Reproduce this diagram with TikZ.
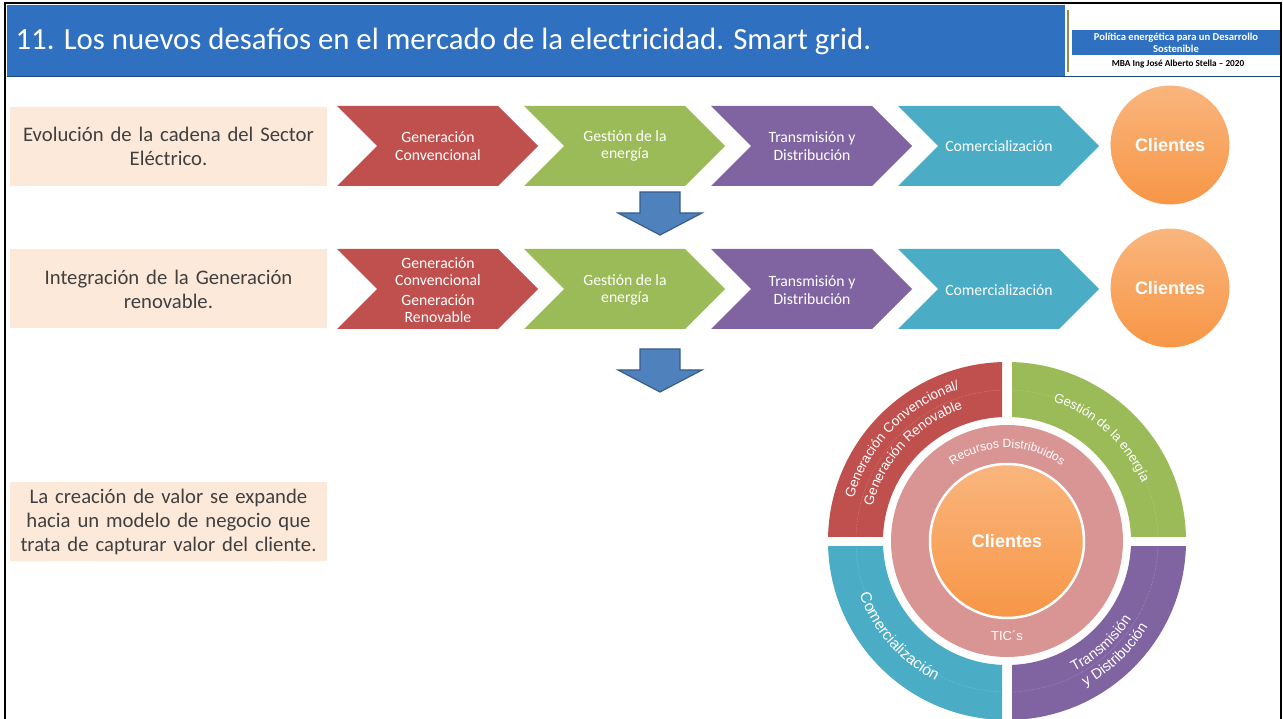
\documentclass[tikz,border=0pt]{standalone}
\usepackage{fontspec}
\setmainfont{Carlito}
\newfontfamily\ringfont{Liberation Sans}
\usepackage{tikz}
\usetikzlibrary{positioning,calc,decorations.text}
\definecolor{HeaderBlue}{RGB}{47,112,192}
\definecolor{FrameBlue}{RGB}{31,73,125}
\definecolor{RuleGold}{RGB}{148,138,84}
\definecolor{PeachBox}{RGB}{253,233,217}
\definecolor{TextGray}{RGB}{64,64,64}
\definecolor{GenRed}{RGB}{192,80,77}
\definecolor{GesGreen}{RGB}{155,187,89}
\definecolor{TraPurple}{RGB}{128,100,162}
\definecolor{ComTeal}{RGB}{75,172,198}
\definecolor{CliOrange}{RGB}{247,150,70}
\definecolor{RingPink}{RGB}{217,149,148}
\definecolor{ArrowBlue}{RGB}{79,129,189}
\definecolor{ArrowEdge}{RGB}{56,93,138}
\begin{document}
\begin{tikzpicture}[x=1pt,y=-1pt,
  infobox/.style={fill=PeachBox,text=TextGray,minimum width=317pt,minimum height=79pt,
    text width=310pt,align=center,inner sep=0pt,font=\fontsize{20.7}{24}\selectfont},
  chevlabel/.style={text=white,align=center,font=\fontsize{15.7}{17.5}\selectfont},
  clientdot/.style={circle,inner sep=0pt,draw=white,line width=1pt,
    top color=CliOrange!70!white,middle color=CliOrange,bottom color=CliOrange,
    text=white,font=\ringfont\bfseries\fontsize{18}{18}\selectfont},
  blockarrow/.style={fill=ArrowBlue,draw=ArrowEdge,line width=1.2pt},
  ringtext/.style={decorate,decoration={text along path,text align=center,
    text={|\ringfont\color{white}\fontsize{#1}{#1}\selectfont|\ringlab}}}]
  \useasboundingbox (0,0) rectangle (1283,719);

  \fill[HeaderBlue] (7,5) rectangle (1065,76);
  \node[anchor=west,text=white,font=\fontsize{30.8}{32}\selectfont] (title) at (12,41)
    {11. Los nuevos desafíos en el mercado de la electricidad. Smart grid.};
  \draw[RuleGold,line width=2pt] (1067.5,10) -- (1067.5,72);
  \fill[HeaderBlue] (1072,30) rectangle (1281,55);
  \node[text=white,align=center,font=\bfseries\fontsize{10.6}{12}\selectfont] (course) at (1176,42.5)
    {Política energética para un Desarrollo\\Sostenible};
  \node[font=\bfseries\fontsize{9.2}{10}\selectfont] (author) at (1178,64.5)
    {MBA Ing José Alberto Stella – 2020};
  \draw[FrameBlue,line width=1.5pt] (7,76.5) -- (1281,76.5);
  \draw[line width=2pt] (5,730) -- (5,3) -- (1281,3) -- (1281,730);

  \node[infobox] (evolucion) at (168.5,146.5) {Evolución de la cadena del Sector\\Eléctrico.};
  \node[infobox] (integracion) at (168.5,289) {Integración de la Generación\\renovable.};
  \node[infobox] (valor) at (168.5,521.5)
    {La creación de valor se expande\\hacia un modelo de negocio que\\trata de capturar valor del cliente.};

  \foreach \x/\col/\lab [count=\i] in {337/GenRed/{Generación\\Convencional},
      524/GesGreen/{Gestión de la\\energía},711/TraPurple/{Transmisión y\\Distribución},
      898/ComTeal/Comercialización}{
    \fill[\col] (\x,106) -- ++(161,0) -- ++(40,40) -- ++(-40,40) -- ++(-161,0) -- ++(40,-40) -- cycle;
    \node[chevlabel] (cadena\i) at (\x+101,146) {\lab};
  }
  \foreach \x/\col/\lab [count=\i] in {337/GenRed/{Generación\\Convencional\\[2pt]Generación\\Renovable},
      524/GesGreen/{Gestión de la\\energía},711/TraPurple/{Transmisión y\\Distribución},
      898/ComTeal/Comercialización}{
    \fill[\col] (\x,249) -- ++(161,0) -- ++(40,40) -- ++(-40,40) -- ++(-161,0) -- ++(40,-40) -- cycle;
    \node[chevlabel] (renov\i) at (\x+101,290) {\lab};
  }
  \node[clientdot,minimum size=120pt] (cli1) at (1170,145) {Clientes};
  \node[clientdot,minimum size=120pt] (cli2) at (1170,288) {Clientes};

  \foreach \y in {192,349}
    \draw[blockarrow] (640,\y) -- (680,\y) -- (680,\y+21) -- (702,\y+21) -- (660,\y+43)
      -- (618,\y+21) -- (640,\y+21) -- cycle;

  \begin{scope}[shift={(1007,541)},y=1pt]
    \foreach \sx/\sy/\col in {-1/1/GenRed,1/1/GesGreen,-1/-1/ComTeal,1/-1/TraPurple}{
      \begin{scope}
        \clip (5*\sx,5*\sy) rectangle (190*\sx,190*\sy);
        \fill[\col,even odd rule] (0,0) circle[radius=179] circle[radius=124];
        \draw[white,opacity=.35,densely dotted,line width=.5pt] (0,0) circle[radius=151];
      \end{scope}
    }
    \fill[RingPink] (0,0) circle[radius=116];
    \node[clientdot,minimum size=154pt,line width=2.5pt] (core) at (0,0) {Clientes};
    \def\ringlab{Recursos Distribuidos}
    \path[ringtext=12] (150:93) arc[start angle=150,end angle=30,radius=93];
    \node[text=white,font=\ringfont\fontsize{13}{13}\selectfont] (tics) at (0,-95) {TIC´s};
    \def\ringlab{Generación Convencional/}
    \path[ringtext=13.5] (176:159) arc[start angle=176,end angle=96,radius=159];
    \def\ringlab{Generación Renovable}
    \path[ringtext=13.5] (177:139) arc[start angle=177,end angle=97,radius=139];
    \def\ringlab{Gestión de la energía}
    \path[ringtext=13] (90:147) arc[start angle=90,end angle=5,radius=147];
    \def\ringlab{Comercialización}
    \path[ringtext=15.5] (181:157) arc[start angle=181,end angle=262,radius=157];
    \def\ringlab{Transmisión}
    \path[ringtext=14.5] (272:147) arc[start angle=272,end angle=353,radius=147];
    \def\ringlab{y Distribución}
    \path[ringtext=14.5] (273:165) arc[start angle=273,end angle=354,radius=165];
  \end{scope}
\end{tikzpicture}
\end{document}
